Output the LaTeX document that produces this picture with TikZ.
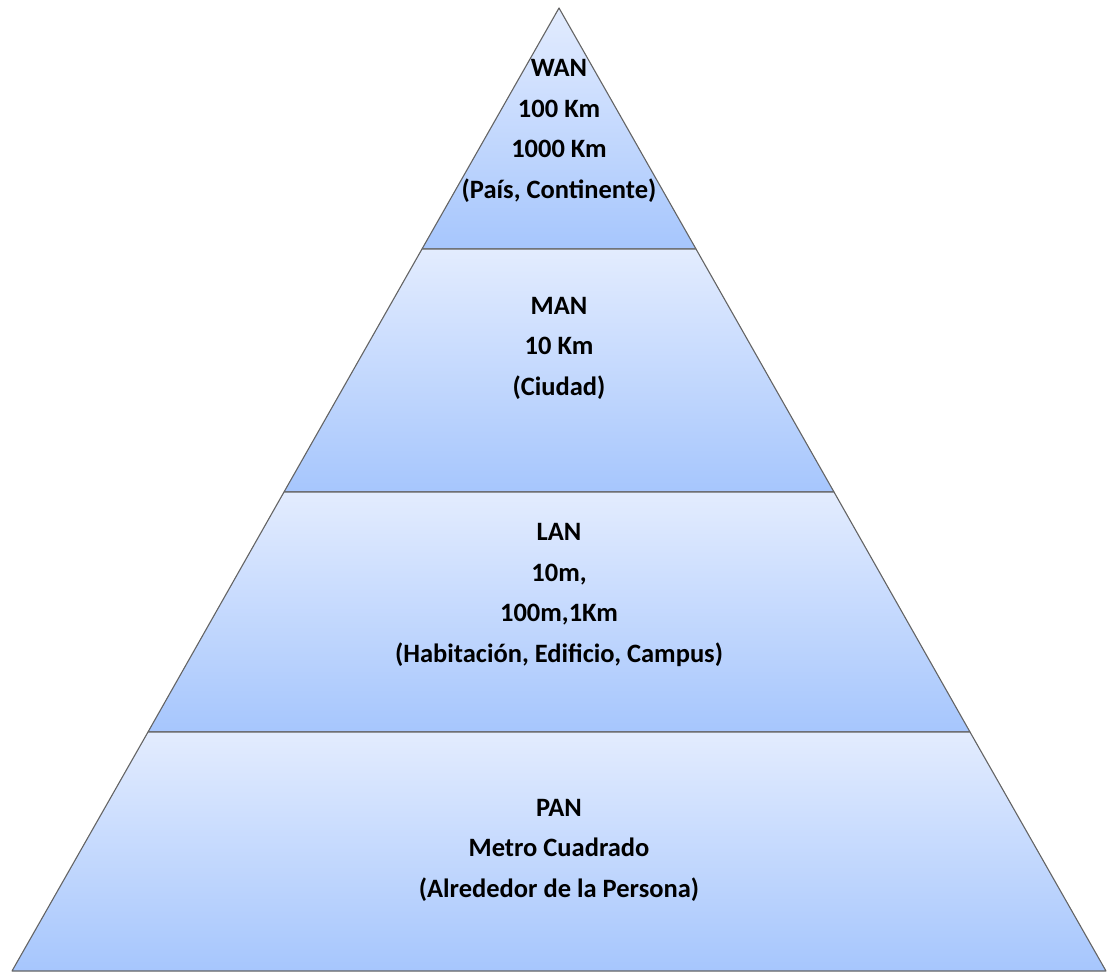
\documentclass[tikz,border=0pt]{standalone}
\usepackage{fontspec}
\setmainfont{Carlito}
\begin{document}
\begin{tikzpicture}[x=1pt,y=-1pt,
  band/.style={draw={rgb,255:red,100;green,100;blue,100}, line width=1.1pt, line join=round,
    top color={rgb,255:red,227;green,236;blue,254},
    bottom color={rgb,255:red,166;green,198;blue,253}},
  label/.style={align=center, font=\fontsize{26.5}{40.5}\selectfont\bfseries, text=black, inner sep=0pt}]
\useasboundingbox (0,0) rectangle (1108,973);
% four stacked bands of the pyramid, top to bottom
\coordinate (apex) at (559,8);
\coordinate (l1) at (422,249);  \coordinate (r1) at (696,249);
\coordinate (l2) at (284,492);  \coordinate (r2) at (834,492);
\coordinate (l3) at (148,732);  \coordinate (r3) at (970,732);
\coordinate (l4) at (12,971);   \coordinate (r4) at (1106,971);
\path[band] (apex) -- (r1) -- (l1) -- cycle;
\path[band] (l1) -- (r1) -- (r2) -- (l2) -- cycle;
\path[band] (l2) -- (r2) -- (r3) -- (l3) -- cycle;
\path[band] (l3) -- (r3) -- (r4) -- (l4) -- cycle;
% band labels
\node[label] (wan) at (559,131) {WAN\\100 Km\\1000 Km\\(País, Continente)};
\node[label] (man) at (559,348) {MAN\\10 Km\\(Ciudad)};
\node[label] (lan) at (559,595) {LAN\\10m,\\100m,1Km\\(Habitación, Edificio, Campus)};
\node[label] (pan) at (559,850) {PAN\\Metro Cuadrado\\(Alrededor de la Persona)};
\end{tikzpicture}
\end{document}
